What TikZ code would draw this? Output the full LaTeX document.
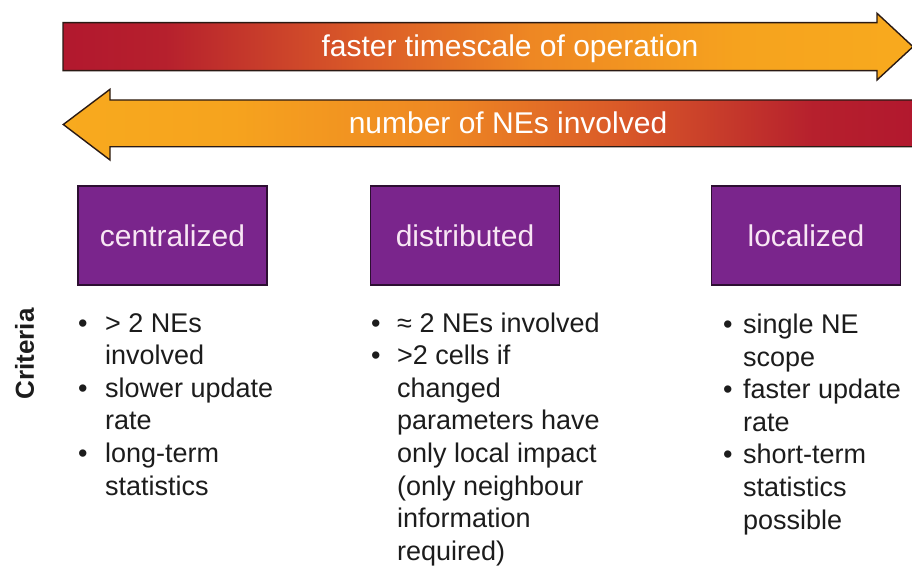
\documentclass[tikz,border=0pt]{standalone}
\usepackage{fontspec}
\setmainfont{Liberation Sans}

\definecolor{ared}{RGB}{178,24,46}
\definecolor{ared2}{RGB}{182,32,45}
\definecolor{aorgA}{RGB}{218,90,40}
\definecolor{aorgB}{RGB}{238,135,35}
\definecolor{aorgC}{RGB}{246,163,30}
\definecolor{ayel}{RGB}{248,170,30}
\definecolor{arrowline}{RGB}{42,26,20}
\definecolor{boxpurple}{RGB}{122,37,140}
\definecolor{boxline}{RGB}{45,15,50}
\definecolor{boxtext}{RGB}{248,230,244}
\definecolor{textdark}{RGB}{28,28,28}

% red on the left, orange on the right (path spans 25bp..75bp)
\pgfdeclarehorizontalshading{warmright}{100bp}{%
  color(0bp)=(ared); color(25bp)=(ared); color(31bp)=(ared2);
  color(42.5bp)=(aorgA); color(52.5bp)=(aorgB); color(65bp)=(aorgC);
  color(75bp)=(ayel); color(100bp)=(ayel)}
% orange on the left, red on the right
\pgfdeclarehorizontalshading{warmleft}{100bp}{%
  color(0bp)=(ayel); color(25bp)=(ayel); color(35bp)=(aorgC);
  color(47.5bp)=(aorgB); color(57.5bp)=(aorgA); color(69bp)=(ared2);
  color(75bp)=(ared); color(100bp)=(ared)}

\newlength\critgap
\newcommand{\critdot}{\makebox[\critgap][l]{\textbullet}}

\begin{document}
\begin{tikzpicture}[x=1pt,y=-1pt,
  bandarrow/.style={draw=arrowline, line width=1.4pt, line join=miter},
  arrowtext/.style={text=white, inner sep=0pt, font=\fontsize{30}{36}\selectfont},
  catbox/.style={draw=boxline, line width=1.4pt, fill=boxpurple,
    minimum width=189pt, minimum height=99pt, inner sep=0pt,
    text=boxtext, font=\fontsize{30}{36}\selectfont},
  critlist/.style={inner sep=0pt, text=textdark, anchor=base west,
    font=\fontsize{27}{32.6}\selectfont}]
\useasboundingbox (0,0) rectangle (912,567);

% top band: faster timescale, pointing right
\shade[shading=warmright, bandarrow]
  (63,22.7) -- (877,22.7) -- (877,13.3) -- (913,46.7) -- (877,80)
  -- (877,70.7) -- (63,70.7) -- cycle;
\node[arrowtext, anchor=base] (fast) at (510,56.5) {faster timescale of operation};

% lower band: number of NEs, pointing left
\shade[shading=warmleft, bandarrow]
  (915,100) -- (110,100) -- (110,89.3) -- (63.3,124.5) -- (110,160)
  -- (110,146.7) -- (915,146.7) -- cycle;
\node[arrowtext, anchor=base] (nes) at (508,133.5) {number of NEs involved};

% categories
\node[catbox] (cen) at (172.5,235.5) {centralized};
\node[catbox] (dis) at (465,235.5) {distributed};
\node[catbox] (loc) at (806,235.5) {localized};

% side label
\node[rotate=90, inner sep=0pt, text=textdark,
  font=\bfseries\fontsize{26}{30}\selectfont] (crit) at (24.5,354) {Criteria};

% criteria lists
\node[critlist] (lcen) at (78,332) {\setlength\critgap{27pt}%
  \begin{tabular}[t]{@{}l@{}l@{}}
  \critdot & > 2 NEs\\
           & involved\\
  \critdot & slower update\\
           & rate\\
  \critdot & long-term\\
           & statistics
  \end{tabular}};

\node[critlist] (ldis) at (371,332) {\setlength\critgap{26pt}%
  \begin{tabular}[t]{@{}l@{}l@{}}
  \critdot & ≈ 2 NEs involved\\
  \critdot & >2 cells if\\
           & changed\\
           & parameters have\\
           & only local impact\\
           & (only neighbour\\
           & information\\
           & required)
  \end{tabular}};

\node[critlist] (lloc) at (723,333.5) {\setlength\critgap{20pt}%
  \begin{tabular}[t]{@{}l@{}l@{}}
  \critdot & single NE\\
           & scope\\
  \critdot & faster update\\
           & rate\\
  \critdot & short-term\\
           & statistics\\
           & possible
  \end{tabular}};
\end{tikzpicture}
\end{document}
